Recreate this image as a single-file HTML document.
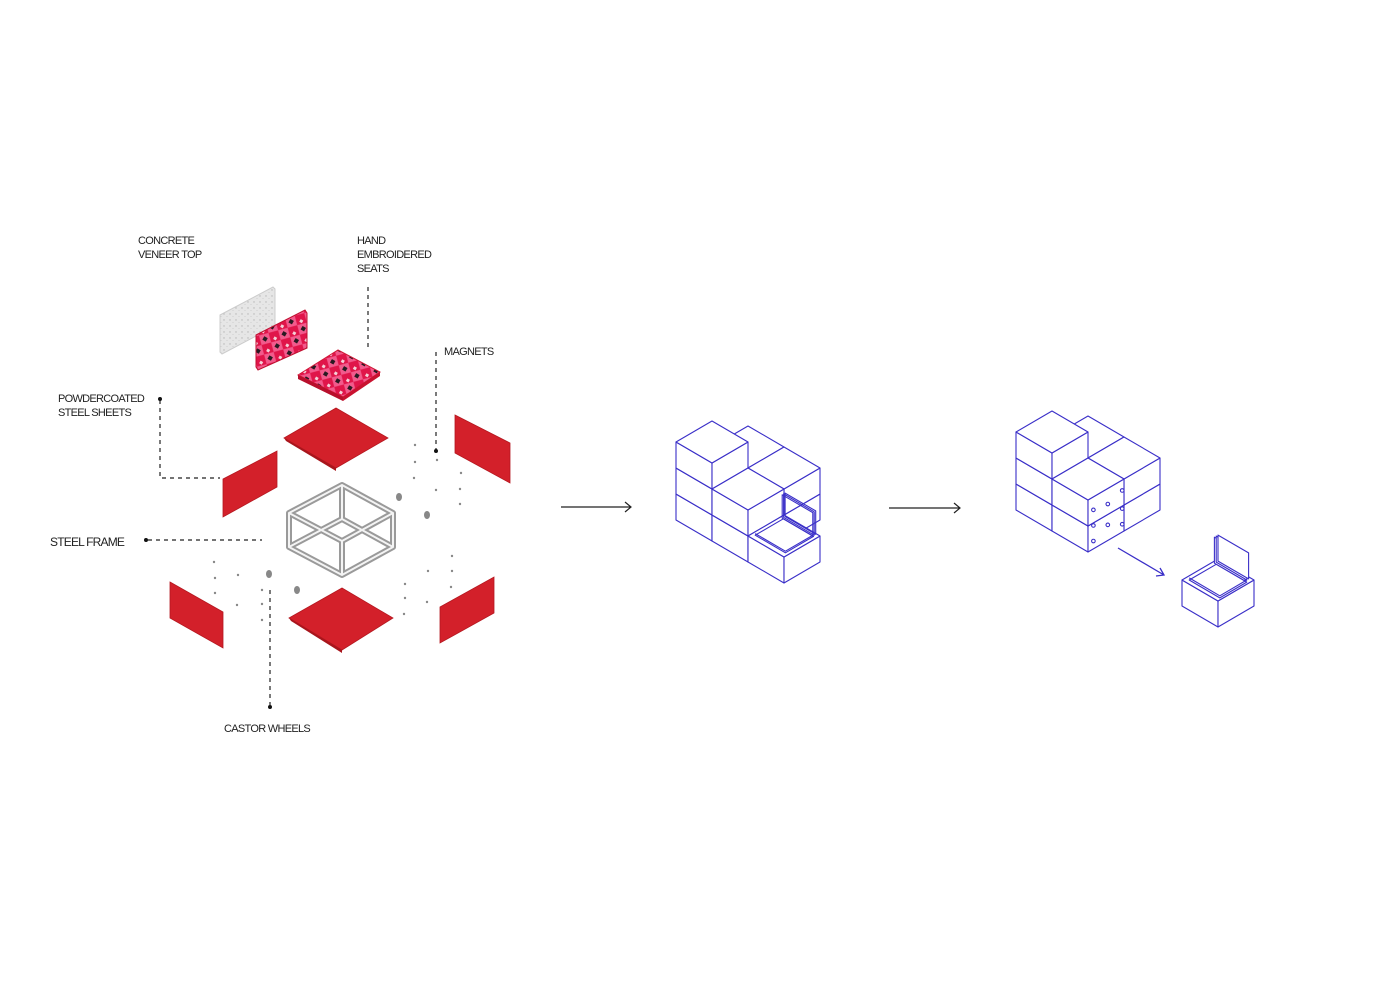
<!DOCTYPE html>
<html><head><meta charset="utf-8">
<style>
html,body{margin:0;padding:0;background:#fff;}
svg{display:block;}
text{font-family:"Liberation Sans",sans-serif;font-size:11px;fill:#222;letter-spacing:-0.7px;}
</style></head>
<body>
<svg id="s" width="1400" height="982" viewBox="0 0 1400 982" xmlns="http://www.w3.org/2000/svg">
<defs>
<pattern id="rug" width="14" height="14" patternUnits="userSpaceOnUse" patternTransform="rotate(30)">
<rect width="14" height="14" fill="#e0154a"/>
<path d="M7 0 L14 7 L7 14 L0 7Z" fill="#f25a8c"/>
<rect x="5" y="5" width="4" height="4" fill="#2a1a22"/>
<rect x="0" y="0" width="3" height="3" fill="#f4d0d8"/>
</pattern>
<pattern id="conc" width="6" height="6" patternUnits="userSpaceOnUse">
<rect width="6" height="6" fill="#e6e6e6"/>
<circle cx="2" cy="2" r="0.7" fill="#b5b5b5"/><circle cx="5" cy="4.5" r="0.5" fill="#c8c8c8"/>
</pattern>
</defs>

<text x="138" y="244">CONCRETE</text>
<text x="138" y="258">VENEER TOP</text>
<text x="357" y="244">HAND</text>
<text x="357" y="258">EMBROIDERED</text>
<text x="357" y="272">SEATS</text>
<text x="444" y="355">MAGNETS</text>
<text x="58" y="402">POWDERCOATED</text>
<text x="58" y="416">STEEL SHEETS</text>
<text x="50" y="546" style="font-size:12px;letter-spacing:-0.8px">STEEL FRAME</text>
<text x="224" y="732">CASTOR WHEELS</text>

<g stroke="#222" stroke-width="1.2" stroke-dasharray="4 4" fill="none">
<path d="M368 287 V350"/>
<path d="M436 352 V450"/>
<path d="M160 400 V478 H220"/>
<path d="M148 540 H262"/>
<path d="M270 590 V705"/>
</g>
<g fill="#111">
<circle cx="160" cy="399" r="2"/><circle cx="436" cy="451" r="2"/>
<circle cx="146" cy="540" r="2"/><circle cx="270" cy="707" r="2"/>
</g>

<polygon points="220,315 273,287 275,289 275,326 222,354 220,352" fill="url(#conc)" stroke="#ccc" stroke-width="1"/>
<polygon points="256,335 305,310 307,313 307,348 258,370 256,367" fill="url(#rug)" stroke="#c01030" stroke-width="1"/>
<polygon points="298,375 338,350 380,372 343,397" fill="url(#rug)" stroke="#d01836" stroke-width="1"/>
<polygon points="298,375 343,397 343,401 298,379" fill="#b80f2c"/>
<polygon points="343,397 380,372 380,376 343,401" fill="#c91230"/>

<g fill="#d3202a" stroke="#b51820" stroke-width="0.8">
<polygon points="284,438 336,408 388,438 336,468"/>
<polygon points="223,479 277,451 277,487 223,517"/>
<polygon points="455,415 510,443 510,483 455,453"/>
<polygon points="170,582 223,612 223,648 170,618"/>
<polygon points="289,618 342,588 393,618 342,650"/>
<polygon points="440,607 494,577 494,613 440,643"/>
</g>
<g fill="#a8151c">
<polygon points="284,438 336,468 336,471 286,441"/>
<polygon points="289,618 342,650 342,653 291,621"/>
</g>

<g fill="none" stroke-linejoin="round">
<g stroke="#9a9a9a" stroke-width="6">
<path d="M289,513 L342,485 L393,513 L342,541 Z"/>
<path d="M289,547 L342,519 L393,547 L342,575 Z"/>
<path d="M289,513 V547 M342,485 V519 M393,513 V547 M342,541 V575"/>
</g>
<g stroke="#f4f4f4" stroke-width="2">
<path d="M289,513 L342,485 L393,513 L342,541 Z"/>
<path d="M289,547 L342,519 L393,547 L342,575 Z"/>
<path d="M289,513 V547 M342,485 V519 M393,513 V547 M342,541 V575"/>
</g>
</g>

<g fill="#888">
<ellipse cx="399" cy="497" rx="3" ry="4"/><ellipse cx="427" cy="515" rx="3" ry="4"/>
<ellipse cx="269" cy="574" rx="3" ry="4"/><ellipse cx="297" cy="590" rx="3" ry="4"/>
<circle cx="415" cy="445" r="1.2"/><circle cx="415" cy="462" r="1.2"/><circle cx="414" cy="478" r="1.2"/>
<circle cx="437" cy="460" r="1.2"/><circle cx="436" cy="490" r="1.2"/>
<circle cx="461" cy="473" r="1.2"/><circle cx="460" cy="489" r="1.2"/><circle cx="460" cy="504" r="1.2"/>
<circle cx="214" cy="562" r="1.2"/><circle cx="215" cy="578" r="1.2"/><circle cx="215" cy="593" r="1.2"/>
<circle cx="238" cy="575" r="1.2"/><circle cx="237" cy="605" r="1.2"/>
<circle cx="262" cy="590" r="1.2"/><circle cx="262" cy="604" r="1.2"/><circle cx="262" cy="620" r="1.2"/>
<circle cx="452" cy="556" r="1.2"/><circle cx="452" cy="571" r="1.2"/><circle cx="451" cy="587" r="1.2"/>
<circle cx="428" cy="571" r="1.2"/><circle cx="427" cy="602" r="1.2"/>
<circle cx="405" cy="584" r="1.2"/><circle cx="405" cy="598" r="1.2"/><circle cx="404" cy="614" r="1.2"/>
</g>

<g stroke="#222" stroke-width="1.2" fill="none">
<path d="M561 507 H631 M625 502 L631 507 L625 512"/>
<path d="M889 508 H960 M954 503 L960 508 L954 513"/>
</g>
<g stroke="#3a2fc8" stroke-width="1.3" fill="none">
<path d="M1118 548 L1164 575 M1156 576 L1164 575 L1160 568"/>
</g>

<g id="blue" stroke="#3a2fc8" stroke-width="1.1" fill="#fff" stroke-linejoin="round"></g>
</svg>
<script>
(function(){
var g=document.getElementById('blue');
function P(O,u,v,k){return [O[0]+36*u+36*v, O[1]+21*u-21*v-26*k];}
function poly(pts,extra){var e=document.createElementNS('http://www.w3.org/2000/svg','polygon');
 e.setAttribute('points',pts.map(function(p){return p[0].toFixed(1)+','+p[1].toFixed(1)}).join(' '));
 if(extra)for(var k in extra)e.setAttribute(k,extra[k]);g.appendChild(e);}
function line(pts,w){var e=document.createElementNS('http://www.w3.org/2000/svg','polyline');
 e.setAttribute('points',pts.map(function(p){return p[0].toFixed(1)+','+p[1].toFixed(1)}).join(' '));
 e.setAttribute('fill','none');if(w)e.setAttribute('stroke-width',w);g.appendChild(e);}
function cube(O,u,v,k){
 poly([P(O,u,v,k),P(O,u+1,v,k),P(O,u+1,v,k+1),P(O,u,v,k+1)]);
 poly([P(O,u+1,v,k),P(O,u+1,v+1,k),P(O,u+1,v+1,k+1),P(O,u+1,v,k+1)]);
 poly([P(O,u,v,k+1),P(O,u+1,v,k+1),P(O,u+1,v+1,k+1),P(O,u,v+1,k+1)]);
}
function stack(O,cubes){
 cubes.sort(function(a,b){return (a[0]-b[0])||(b[1]-a[1])||(a[2]-b[2]);});
 cubes.forEach(function(c){cube(O,c[0],c[1],c[2]);});
}
var base=[[0,1,0],[0,1,1],[1,1,0],[1,1,1],[0,0,0],[0,0,1],[0,0,2],[1,0,0],[1,0,1]];
var O1=[676,520];
stack(O1,base.concat([[2,0,0]]));
var a=P(O1,2.08,0.12,1),b=P(O1,2.92,0.12,1),c=P(O1,2.92,0.9,1),d=P(O1,2.08,0.9,1);
poly([a,b,c,d]);
line([P(O1,2.08,0.12,1.06),P(O1,2.92,0.12,1.06),P(O1,2.92,0.9,1.06)]);
for(var i=0;i<3;i++){var vv=0.9+i*0.04;
 poly([P(O1,2.05,vv,1),P(O1,2.05,vv,1.9),P(O1,2.9,vv,1.9),P(O1,2.9,vv,1)],{fill:'none'});}
var O2=[1016,510];
stack(O2,base.slice());
var dots=[[2,0.15,0.3],[2,0.15,0.9],[2,0.15,1.5],[2,0.55,0.6],[2,0.55,1.4],[2,0.95,0.3],[2,0.95,0.9],[2,0.95,1.6]];
dots.forEach(function(t){var p=P(O2,t[0],t[1],t[2]);var e=document.createElementNS('http://www.w3.org/2000/svg','circle');
 e.setAttribute('cx',p[0]);e.setAttribute('cy',p[1]);e.setAttribute('r',1.8);g.appendChild(e);});
var O3=[1182,606];
cube(O3,0,0,0);
for(var j=0;j<3;j++){var vv=0.85+j*0.05;
 poly([P(O3,0.05,vv,1),P(O3,0.05,vv,2.0),P(O3,0.9,vv,2.0),P(O3,0.9,vv,1)]);}
poly([P(O3,0.1,0.1,1),P(O3,0.95,0.1,1),P(O3,0.95,0.85,1),P(O3,0.1,0.85,1)]);
line([P(O3,0.1,0.1,1.08),P(O3,0.95,0.1,1.08),P(O3,0.95,0.85,1.08)]);
})();
</script>
</body></html>
